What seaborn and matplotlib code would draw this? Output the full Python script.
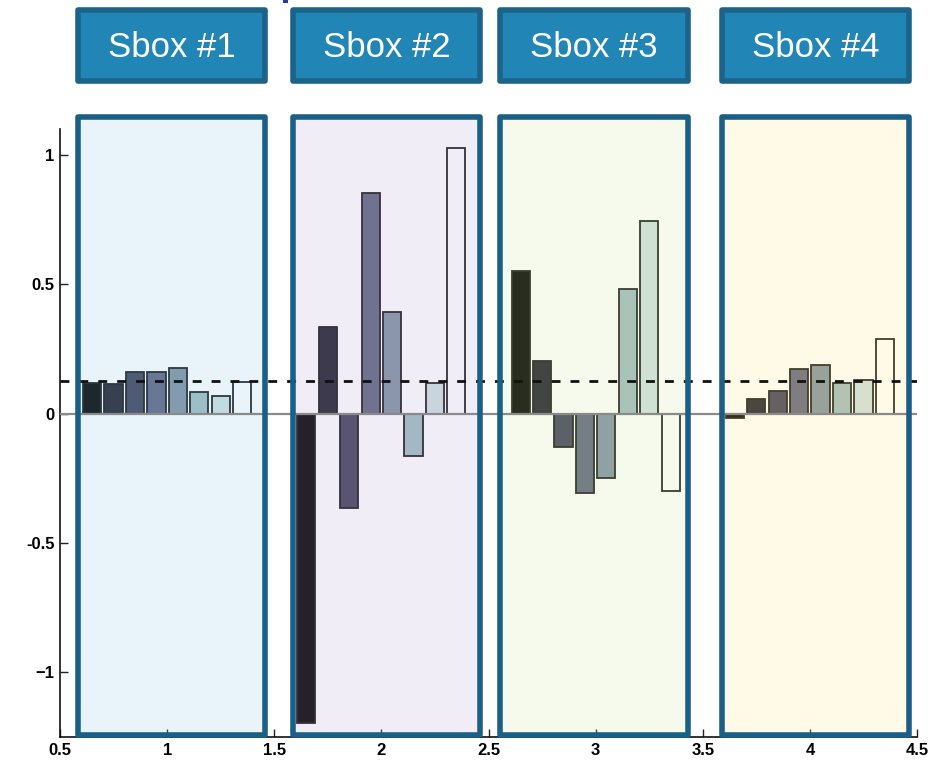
import matplotlib
matplotlib.use("Agg")
import matplotlib.pyplot as plt
import matplotlib.transforms as mtransforms
from matplotlib.patches import Rectangle
import numpy as np
import pandas as pd
import seaborn as sns

# ---- data -------------------------------------------------------------
groups = [1, 2, 3, 4]
sbox_labels = ["Sbox #1", "Sbox #2", "Sbox #3", "Sbox #4"]
series = ["b1", "b2", "b3", "b4", "b5", "b6", "b7", "b8"]

sbox1 = [0.117, 0.113, 0.161, 0.161, 0.178, 0.085, 0.068, 0.121]
sbox2 = [-1.197, 0.336, -0.364, 0.851, 0.394, -0.162, 0.117, 1.026]
sbox3 = [0.552, 0.205, -0.130, -0.306, -0.248, 0.481, 0.745, -0.301]
sbox4 = [-0.017, 0.057, 0.086, 0.171, 0.186, 0.118, 0.128, 0.287]

threshold = 0.125

x_ticks = [0.5, 1, 1.5, 2, 2.5, 3, 3.5, 4, 4.5]
x_ticklabels = ["0.5", "1", "1.5", "2", "2.5", "3", "3.5", "4", "4.5"]
y_ticks = [-1, -0.5, 0, 0.5, 1]
y_ticklabels = ["\u22121", "-0.5", "0", "0.5", "1"]

# ---- long table for seaborn --------------------------------------------
rows = []
for g, vals in zip(groups, [sbox1, sbox2, sbox3, sbox4]):
    for s, v in zip(series, vals):
        rows.append({"sbox": g, "bar": s, "value": v})
df = pd.DataFrame(rows)

# ---- figure -------------------------------------------------------------
W, H, DPI = 939, 761, 100
fig = plt.figure(figsize=(W / DPI, H / DPI), dpi=DPI)
ax = fig.add_axes([60 / W, 1 - 737 / H, (917 - 60) / W, (737 - 129) / H])

sns.set_style("ticks")
tick_font = dict(family=["Liberation Sans", "DejaVu Sans"], weight="bold", size=12)

palette = [plt.get_cmap("bone")(t) for t in np.linspace(0, 1, len(series))]

sns.barplot(
    data=df, x="sbox", y="value", hue="bar", hue_order=series,
    palette=palette, native_scale=True, width=0.8, gap=0.15,
    errorbar=None, legend=False, edgecolor="#151515", linewidth=1.3,
    saturation=1, ax=ax, zorder=2,
)

ax.set_xlim(0.5, 4.5)
ax.set_ylim(-1.25, 1.1)
ax.set_xticks(x_ticks)
ax.set_xticklabels(x_ticklabels, **tick_font)
ax.set_yticks(y_ticks)
ax.set_yticklabels(y_ticklabels, **tick_font)
ax.set_xlabel("")
ax.set_ylabel("")
ax.tick_params(direction="in", length=6, width=1, color="#222222", pad=4)
for side in ("top", "right"):
    ax.spines[side].set_visible(False)
for side in ("left", "bottom"):
    ax.spines[side].set_linewidth(1.2)
    ax.spines[side].set_color("#111111")

# zero line and threshold
ax.axhline(0, color="#8a8a8a", lw=1.6, zorder=4)
ax.axhline(threshold, color="#111111", lw=2.0, ls=(0, (3.2, 3.6)), zorder=4)

# ---- highlighted sbox panels -------------------------------------------
panel_x = [(0.583, 1.458), (1.589, 2.461), (2.552, 3.430), (3.588, 4.463)]
panel_y = (-1.241, 1.148)
panel_tints = ["#8fc8ea", "#bba8d8", "#cfe6a0", "#ffe48a"]
border_col = "#1a5f85"

for (x0, x1), tint in zip(panel_x, panel_tints):
    ax.add_patch(Rectangle((x0, panel_y[0]), x1 - x0, panel_y[1] - panel_y[0],
                           facecolor=tint, alpha=0.2, edgecolor="none",
                           zorder=3, clip_on=False))
    ax.add_patch(Rectangle((x0, panel_y[0]), x1 - x0, panel_y[1] - panel_y[0],
                           facecolor="none", edgecolor=border_col, lw=4.0,
                           joinstyle="round", zorder=5, clip_on=False))

# ---- header boxes ---------------------------------------------------------
blend = mtransforms.blended_transform_factory(ax.transData, fig.transFigure)
hy0, hy1 = 1 - 80.5 / H, 1 - 9.5 / H
for (x0, x1), label in zip(panel_x, sbox_labels):
    fig.add_artist(Rectangle((x0, hy0), x1 - x0, hy1 - hy0, transform=blend,
                             facecolor="#2185b6", edgecolor="#1b6388", lw=4.0,
                             joinstyle="round", zorder=6))
    fig.text((x0 + x1) / 2, (hy0 + hy1) / 2 - 2.5 / H, label, transform=blend,
             ha="center", va="center", color="white", fontsize=25,
             family=["Liberation Sans", "DejaVu Sans"], zorder=7)

# small accent mark at the top edge
fig.add_artist(Rectangle((283 / W, 1 - 3 / H), 5 / W, 3 / H,
                         transform=fig.transFigure, facecolor="#1f3f9a",
                         edgecolor="none"))

fig.savefig("out.png", dpi=DPI)
